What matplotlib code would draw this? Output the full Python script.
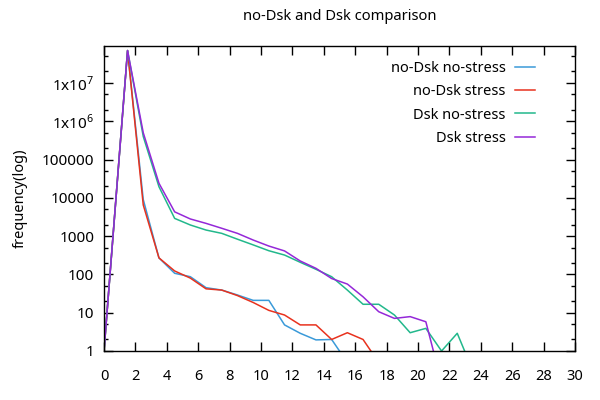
import matplotlib
matplotlib.use("Agg")
import matplotlib.pyplot as plt
from matplotlib.ticker import FixedLocator, LogLocator, NullFormatter

plt.rcParams['font.family'] = ['Noto Sans', 'DejaVu Sans']
plt.rcParams['mathtext.fontset'] = 'custom'
plt.rcParams['mathtext.rm'] = 'Noto Sans'
plt.rcParams['font.size'] = 10.5

# данные: позиции по оси x и частоты
x_vals = [0, 1.5, 2.5, 3.5, 4.5, 5.5, 6.5, 7.5, 8.5, 9.5, 10.5, 11.5,
          12.5, 13.5, 14.5, 15.5, 16.5, 17.5, 18.5, 19.5, 20.5, 21.5, 22.5, 23.5]

nodsk_nostress = [1, 7e7, 9000, 270, 107, 87, 45, 39, 29, 21, 21, 4.8,
                  2.9, 1.95, 2, 0.5]
nodsk_stress = [1, 7e7, 6500, 270, 123, 80, 42, 39, 28, 18.5, 11.5, 8.7,
                4.8, 4.8, 2, 3, 2, 0.5]
dsk_nostress = [1, 7e7, 4e5, 1.95e4, 2.9e3, 1.95e3, 1.44e3, 1.18e3, 830, 590,
                415, 320, 207, 136, 87, 39, 16.6, 16.6, 8.7, 3.0, 3.9, 1, 2.9, 0.3]
dsk_stress = [1, 7e7, 5e5, 2.4e4, 4.3e3, 2.8e3, 2.15e3, 1.6e3, 1.18e3, 790,
              550, 410, 224, 144, 78, 56, 26, 10.6, 7.1, 7.9, 5.8, 0.15]

labels = ['no-Dsk no-stress', 'no-Dsk stress', 'Dsk no-stress', 'Dsk stress']
colors = ['#3a9ad9', '#e8321e', '#22b88c', '#9428d8']

ytick_vals = [1, 10, 100, 1000, 10000, 100000, 1e6, 1e7]
ytick_labels = ['1', '10', '100', '1000', '10000', '100000',
                r'1x10$^{6}$', r'1x10$^{7}$']
xtick_vals = list(range(0, 31, 2))

fig = plt.figure(figsize=(6, 4), dpi=100)
ax = fig.add_axes([104 / 600, 1 - 351 / 400, 471 / 600, 305 / 400])

series = [nodsk_nostress, nodsk_stress, dsk_nostress, dsk_stress]
for ys, lab, col in zip(series, labels, colors):
    ax.plot(x_vals[:len(ys)], ys, color=col, lw=1.1, label=lab)

ax.set_yscale('log')
ax.set_xlim(0, 30)
ax.set_ylim(1, 9.2e7)
ax.yaxis.set_major_locator(FixedLocator(ytick_vals))
ax.set_yticklabels(ytick_labels)
ax.yaxis.set_minor_locator(LogLocator(base=10, subs=(2, 5)))
ax.yaxis.set_minor_formatter(NullFormatter())
ax.set_xticks(xtick_vals)

ax.tick_params(which='both', direction='in', top=True, right=True, width=1.0)
ax.tick_params(which='major', length=6.5)
ax.tick_params(which='minor', length=3)
ax.tick_params(axis='x', pad=13)
ax.tick_params(axis='y', pad=7, labelsize=11)
for s in ax.spines.values():
    s.set_linewidth(1.0)

ax.set_title('no-Dsk and Dsk comparison', fontsize=10.6, pad=19)
ax.set_ylabel('frequency(log)', labelpad=10)

ax.legend(loc='upper right', bbox_to_anchor=(0.915, 0.952), frameon=False,
          markerfirst=False, handlelength=1.4, handletextpad=0.6,
          labelspacing=0.58, borderpad=0, borderaxespad=0)

fig.savefig('out.png', dpi=100)
